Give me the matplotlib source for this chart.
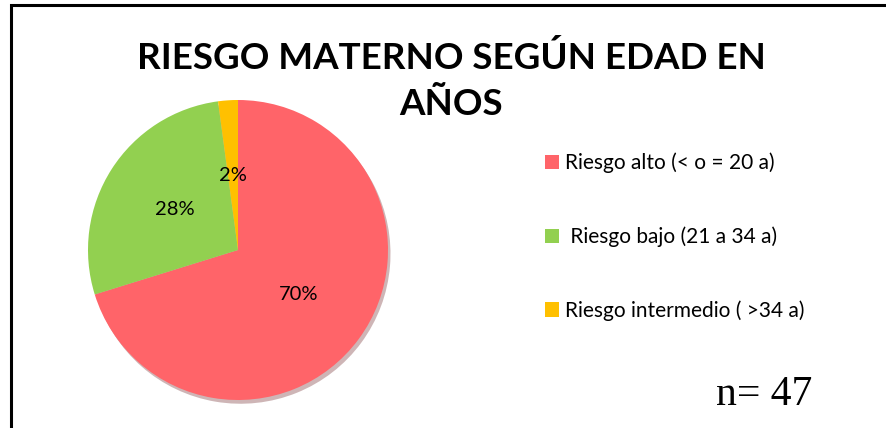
import matplotlib
matplotlib.use("Agg")
import matplotlib.pyplot as plt
from matplotlib.patches import Rectangle

# data (n = 47)
categories = ["Riesgo alto (< o = 20 a)", " Riesgo bajo (21 a 34 a)", "Riesgo intermedio ( >34 a)"]
counts = [33, 13, 1]
colors = ["#FF6469", "#92D050", "#FFC000"]
title = "RIESGO MATERNO SEGÚN EDAD EN\nAÑOS"
note = "n= 47"

W, H = 886, 428
fig = plt.figure(figsize=(W / 100, H / 100), dpi=100)
plt.rcParams['font.family'] = ['Lato', 'DejaVu Sans']

# outer frame of the chart (runs off the right/bottom edge)
fig.patches.append(Rectangle((11 / W, -0.1), 1.2, (H - 5) / H + 0.1,
                             transform=fig.transFigure, fill=False,
                             edgecolor="black", linewidth=2.2))

# pie: centre ~(238, 250) px, radius ~150 px
ax = fig.add_axes([(238 - 150) / W, (H - 400) / H, 300 / W, 300 / H])
wedges, texts, autotexts = ax.pie(
    counts, colors=colors, startangle=90, counterclock=False,
    autopct=lambda p: f"{p:.0f}%", pctdistance=0.5,
    wedgeprops=dict(linewidth=0),
    textprops=dict(fontsize=14.5, color="black"),
    shadow=dict(ox=0.012, oy=-0.018, shade=0.55, alpha=0.35))
ax.set_xlim(-1, 1)
ax.set_ylim(-1, 1)
ax.set_aspect("equal")

fig.text(451 / W, 1 - 81 / H, title, ha="center", va="center",
         fontsize=26.5, fontweight="bold", linespacing=1.5)

fig.legend(wedges, categories, loc="upper left",
           bbox_to_anchor=(526 / W, 1 - 134 / H), frameon=False,
           fontsize=15, handlelength=0.68, handleheight=0.68,
           handletextpad=0.3, labelspacing=2.55)

fig.text(716 / W, 1 - 405 / H, note, ha="left", va="baseline",
         fontsize=30, family="Liberation Serif")

fig.savefig("out.png", dpi=100, facecolor="white")
